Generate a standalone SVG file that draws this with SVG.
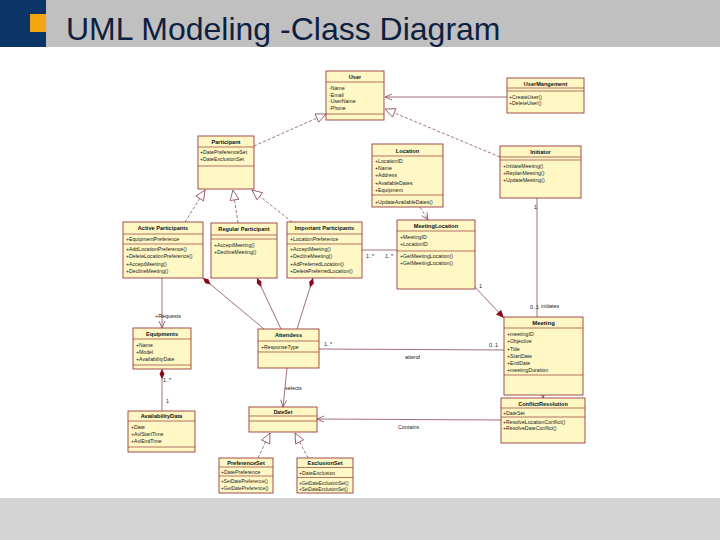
<svg xmlns="http://www.w3.org/2000/svg" width="720" height="540" viewBox="0 0 720 540">
<style>
.box{fill:#fff8c4;stroke:#9a3b3b;stroke-width:0.9}
.sep{stroke:#9a3b3b;stroke-width:0.7}
.nm{font-family:"Liberation Sans",Arial,sans-serif;font-size:5.6px;font-weight:bold;fill:#111;text-anchor:middle}
.tx{font-family:"Liberation Sans",Arial,sans-serif;font-size:5.2px;fill:#222}
.lb{font-family:"Liberation Sans",Arial,sans-serif;font-size:5.4px;fill:#222}
.ln{fill:none;stroke:#8a4a5a;stroke-width:0.8}
.dash{stroke-dasharray:3,2}
</style>
<defs>
<marker id="tri" markerUnits="userSpaceOnUse" markerWidth="12" markerHeight="12" viewBox="0 0 12 12" refX="11" refY="6" orient="auto">
<path d="M1,1.5 L11,6 L1,10.5 Z" fill="#fff" stroke="#8a4a5a" stroke-width="0.8"/>
</marker>
<marker id="open" markerUnits="userSpaceOnUse" markerWidth="10" markerHeight="10" viewBox="0 0 10 10" refX="8" refY="5" orient="auto">
<path d="M1,2 L8,5 L1,8" fill="none" stroke="#8a4a5a" stroke-width="0.8"/>
</marker>
<marker id="dia" markerUnits="userSpaceOnUse" markerWidth="12" markerHeight="8" viewBox="0 0 12 8" refX="0" refY="4" orient="auto">
<path d="M0,4 L5,1.5 L10,4 L5,6.5 Z" fill="#8b0a1a"/>
</marker>
<marker id="fill" markerUnits="userSpaceOnUse" markerWidth="10" markerHeight="10" viewBox="0 0 10 10" refX="9" refY="5" orient="auto">
<path d="M1,1.5 L9,5 L1,8.5 Z" fill="#8b0a1a"/>
</marker>
</defs>
<rect width="720" height="540" fill="#fff"/>
<rect x="0" y="0" width="720" height="47" fill="#c0c0c0"/>
<rect x="0" y="0" width="46" height="47" fill="#0b3566"/>
<rect x="30" y="14" width="16" height="18" fill="#f3a512"/>
<text x="66" y="40" font-family="Liberation Sans, Arial, sans-serif" font-size="32" fill="#0e2040">UML Modeling -Class Diagram</text>
<rect x="0" y="498" width="720" height="42" fill="#d4d4d4"/>

<g id="connectors">
<path class="ln" d="M507,97 L385,97" marker-end="url(#open)"/>
<path class="ln dash" d="M500,157 L385,109" marker-end="url(#tri)"/>
<path class="ln dash" d="M254,146 L326,114" marker-end="url(#tri)"/>
<path class="ln dash" d="M185,222 L205,190" marker-end="url(#tri)"/>
<path class="ln dash" d="M238,223 L233,190" marker-end="url(#tri)"/>
<path class="ln dash" d="M292,222 L252,190" marker-end="url(#tri)"/>
<path class="ln dash" d="M420,207 L428,220" marker-end="url(#open)"/>
<path class="ln" d="M362,250 L397,250"/>
<path class="ln" d="M537,198 L537,317"/>
<path class="ln" d="M474,286 L504,318" marker-end="url(#fill)"/>
<path class="ln" d="M319,349 L504,350"/>
<path class="ln" d="M162,278 L162,328" marker-end="url(#open)"/>
<path class="ln" d="M162,369 L162,411" stroke="#c9b9bd" marker-start="url(#dia)"/>
<path class="ln" d="M287,368 L283,407" marker-end="url(#open)"/>
<path class="ln" d="M501,420 L317,419" marker-end="url(#open)"/>
<path class="ln" d="M543,394 L543,398" marker-end="url(#open)"/>
<path class="ln dash" d="M258,458 L270,433" marker-end="url(#tri)"/>
<path class="ln dash" d="M308,458 L295,433" marker-end="url(#tri)"/>
<path class="ln" d="M203,278 L264,329" marker-start="url(#dia)"/>
<path class="ln" d="M257,278 L281,329" marker-start="url(#dia)"/>
<path class="ln" d="M313,278 L297,329" marker-start="url(#dia)"/>
<text class="lb" x="366" y="258">1..*</text>
<text class="lb" x="385" y="258">1..*</text>
<text class="lb" x="534" y="209">1</text>
<text class="lb" x="530" y="309">0..1</text>
<text class="lb" x="541" y="308">initiates</text>
<text class="lb" x="479" y="288">1</text>
<text class="lb" x="324" y="346">1..*</text>
<text class="lb" x="489" y="347">0..1</text>
<text class="lb" x="405" y="359">attend</text>
<text class="lb" x="155" y="318">+Requests</text>
<text class="lb" x="163" y="382">1..*</text>
<text class="lb" x="166" y="403">1</text>
<text class="lb" x="285" y="390">selects</text>
<text class="lb" x="398" y="429">Contains</text>
</g>

<g id="User">
<rect class="box" x="326" y="71" width="58" height="49"/>
<line class="sep" x1="326" y1="82" x2="384" y2="82"/>
<line class="sep" x1="326" y1="114" x2="384" y2="114"/>
<text class="nm" x="355" y="79">User</text>
<text class="tx" x="329" y="90">-Name</text>
<text class="tx" x="329" y="96.5">-Email</text>
<text class="tx" x="329" y="103">-UserName</text>
<text class="tx" x="329" y="109.5">-Phone</text>
</g>

<g id="UserMangement">
<rect class="box" x="507" y="78" width="77" height="35"/>
<line class="sep" x1="507" y1="88" x2="584" y2="88"/>
<line class="sep" x1="507" y1="91" x2="584" y2="91"/>
<text class="nm" x="545.5" y="85.5">UserMangement</text>
<text class="tx" x="509" y="98.5">+CreateUser()</text>
<text class="tx" x="509" y="105">+DeleteUser()</text>
</g>

<g id="Participant">
<rect class="box" x="198" y="136" width="56" height="53"/>
<line class="sep" x1="198" y1="147" x2="254" y2="147"/>
<line class="sep" x1="198" y1="166" x2="254" y2="166"/>
<text class="nm" x="226" y="143.5">Participant</text>
<text class="tx" x="200" y="154">+DatePreferenceSet</text>
<text class="tx" x="200" y="161">+DateExclusionSet</text>
</g>

<g id="Location">
<rect class="box" x="372" y="144" width="71" height="63"/>
<line class="sep" x1="372" y1="156" x2="443" y2="156"/>
<line class="sep" x1="372" y1="195" x2="443" y2="195"/>
<text class="nm" x="407.5" y="153">Location</text>
<text class="tx" x="375" y="163">+LocationID</text>
<text class="tx" x="375" y="170">+Name</text>
<text class="tx" x="375" y="177">+Address</text>
<text class="tx" x="375" y="184.5">+AvailableDates</text>
<text class="tx" x="375" y="191.5">+Equipment</text>
<text class="tx" x="375" y="203.5">+UpdateAvailableDates()</text>
</g>

<g id="Initiator">
<rect class="box" x="500" y="146" width="81" height="52"/>
<line class="sep" x1="500" y1="157" x2="581" y2="157"/>
<line class="sep" x1="500" y1="160" x2="581" y2="160"/>
<text class="nm" x="540.5" y="154">Initiator</text>
<text class="tx" x="503" y="168">+InitiateMeeting()</text>
<text class="tx" x="503" y="175">+ReplanMeeting()</text>
<text class="tx" x="503" y="182">+UpdateMeeting()</text>
</g>

<g id="ActiveParticipants">
<rect class="box" x="123" y="222" width="80" height="56"/>
<line class="sep" x1="123" y1="234" x2="203" y2="234"/>
<line class="sep" x1="123" y1="244" x2="203" y2="244"/>
<text class="nm" x="163" y="230">Active Participants</text>
<text class="tx" x="126" y="241">+EquipmentPreference</text>
<text class="tx" x="126" y="251">+AddLocationPreference()</text>
<text class="tx" x="126" y="258">+DeleteLocationPreference()</text>
<text class="tx" x="126" y="266">+AcceptMeeting()</text>
<text class="tx" x="126" y="273">+DeclineMeeting()</text>
</g>

<g id="RegularParticipant">
<rect class="box" x="211" y="223" width="66" height="55"/>
<line class="sep" x1="211" y1="235" x2="277" y2="235"/>
<line class="sep" x1="211" y1="239" x2="277" y2="239"/>
<text class="nm" x="244" y="231">Regular Participant</text>
<text class="tx" x="214" y="246.5">+AcceptMeeting()</text>
<text class="tx" x="214" y="254">+DeclineMeeting()</text>
</g>

<g id="ImportantParticipants">
<rect class="box" x="287" y="222" width="75" height="56"/>
<line class="sep" x1="287" y1="234" x2="362" y2="234"/>
<line class="sep" x1="287" y1="244" x2="362" y2="244"/>
<text class="nm" x="324.5" y="230">Important Participants</text>
<text class="tx" x="290" y="241">+LocationPreference</text>
<text class="tx" x="290" y="251">+AcceptMeeting()</text>
<text class="tx" x="290" y="258">+DeclineMeeting()</text>
<text class="tx" x="290" y="266">+AdPreferredLocation()</text>
<text class="tx" x="290" y="273">+DeletePreferredLocation()</text>
</g>

<g id="MeetingLocation">
<rect class="box" x="397" y="220" width="78" height="69"/>
<line class="sep" x1="397" y1="231" x2="475" y2="231"/>
<line class="sep" x1="397" y1="251" x2="475" y2="251"/>
<text class="nm" x="436" y="228">MeetingLocation</text>
<text class="tx" x="400" y="239">+MeetingID</text>
<text class="tx" x="400" y="246">+LocationID</text>
<text class="tx" x="400" y="257.5">+GetMeetingLocation()</text>
<text class="tx" x="400" y="264.5">+GetMeetingLocation()</text>
</g>

<g id="Equipments">
<rect class="box" x="133" y="328" width="58" height="41"/>
<line class="sep" x1="133" y1="339" x2="191" y2="339"/>
<line class="sep" x1="133" y1="365" x2="191" y2="365"/>
<text class="nm" x="162" y="335.5">Equipments</text>
<text class="tx" x="136" y="347">+Name</text>
<text class="tx" x="136" y="354">+Model</text>
<text class="tx" x="136" y="361">+AvailabilityDate</text>
</g>

<g id="AvailabilityData">
<rect class="box" x="128" y="411" width="67" height="41"/>
<line class="sep" x1="128" y1="421" x2="195" y2="421"/>
<line class="sep" x1="128" y1="447" x2="195" y2="447"/>
<text class="nm" x="161.5" y="417.5">AvailabilityData</text>
<text class="tx" x="131" y="429">+Date</text>
<text class="tx" x="131" y="436">+AvlStartTime</text>
<text class="tx" x="131" y="443">+AvlEndTime</text>
</g>

<g id="Attendess">
<rect class="box" x="258" y="329" width="61" height="39"/>
<line class="sep" x1="258" y1="341" x2="319" y2="341"/>
<line class="sep" x1="258" y1="352" x2="319" y2="352"/>
<text class="nm" x="288.5" y="337">Attendess</text>
<text class="tx" x="261" y="349">+ResponseType</text>
</g>

<g id="DateSet">
<rect class="box" x="249" y="407" width="68" height="25"/>
<line class="sep" x1="249" y1="416" x2="317" y2="416"/>
<line class="sep" x1="249" y1="421" x2="317" y2="421"/>
<text class="nm" x="283" y="413.5" style="font-size:5px">DateSet</text>
</g>

<g id="PreferenceSet">
<rect class="box" x="219" y="458" width="54" height="35"/>
<line class="sep" x1="219" y1="467" x2="273" y2="467"/>
<line class="sep" x1="219" y1="476" x2="273" y2="476"/>
<text class="nm" x="246" y="464.5">PreferenceSet</text>
<text class="tx" x="221" y="473.5">+DatePreference</text>
<text class="tx" x="221" y="483" style="font-size:4.8px">+SetDatePreference()</text>
<text class="tx" x="221" y="489.5" style="font-size:4.8px">+GetDatePreference()</text>
</g>

<g id="ExclusionSet">
<rect class="box" x="297" y="458" width="56" height="35"/>
<line class="sep" x1="297" y1="467.5" x2="353" y2="467.5"/>
<line class="sep" x1="297" y1="477.5" x2="353" y2="477.5"/>
<text class="nm" x="325" y="465">ExclusionSet</text>
<text class="tx" x="299" y="475">+DateExclusion</text>
<text class="tx" x="299" y="485" style="font-size:4.6px">+GetDateExclusionSet()</text>
<text class="tx" x="299" y="491" style="font-size:4.6px">+SetDateExclusionSet()</text>
</g>

<g id="Meeting">
<rect class="box" x="504" y="317" width="79" height="78"/>
<line class="sep" x1="504" y1="328" x2="583" y2="328"/>
<line class="sep" x1="504" y1="375" x2="583" y2="375"/>
<text class="nm" x="543.5" y="325" style="font-size:6px">Meeting</text>
<text class="tx" x="507" y="336">+meetingID</text>
<text class="tx" x="507" y="343">+Objective</text>
<text class="tx" x="507" y="350.5">+Title</text>
<text class="tx" x="507" y="358">+StartDate</text>
<text class="tx" x="507" y="365">+EndDate</text>
<text class="tx" x="507" y="372">+meetingDuration</text>
</g>

<g id="ConflictResolution">
<rect class="box" x="501" y="398" width="84" height="45"/>
<line class="sep" x1="501" y1="408" x2="585" y2="408"/>
<line class="sep" x1="501" y1="417" x2="585" y2="417"/>
<text class="nm" x="543" y="405.5">ConflictResolution</text>
<text class="tx" x="503" y="414.5">+DateSet</text>
<text class="tx" x="503" y="424">+ResolveLocationConflict()</text>
<text class="tx" x="503" y="430">+ResolveDateConflict()</text>
</g>
</svg>
